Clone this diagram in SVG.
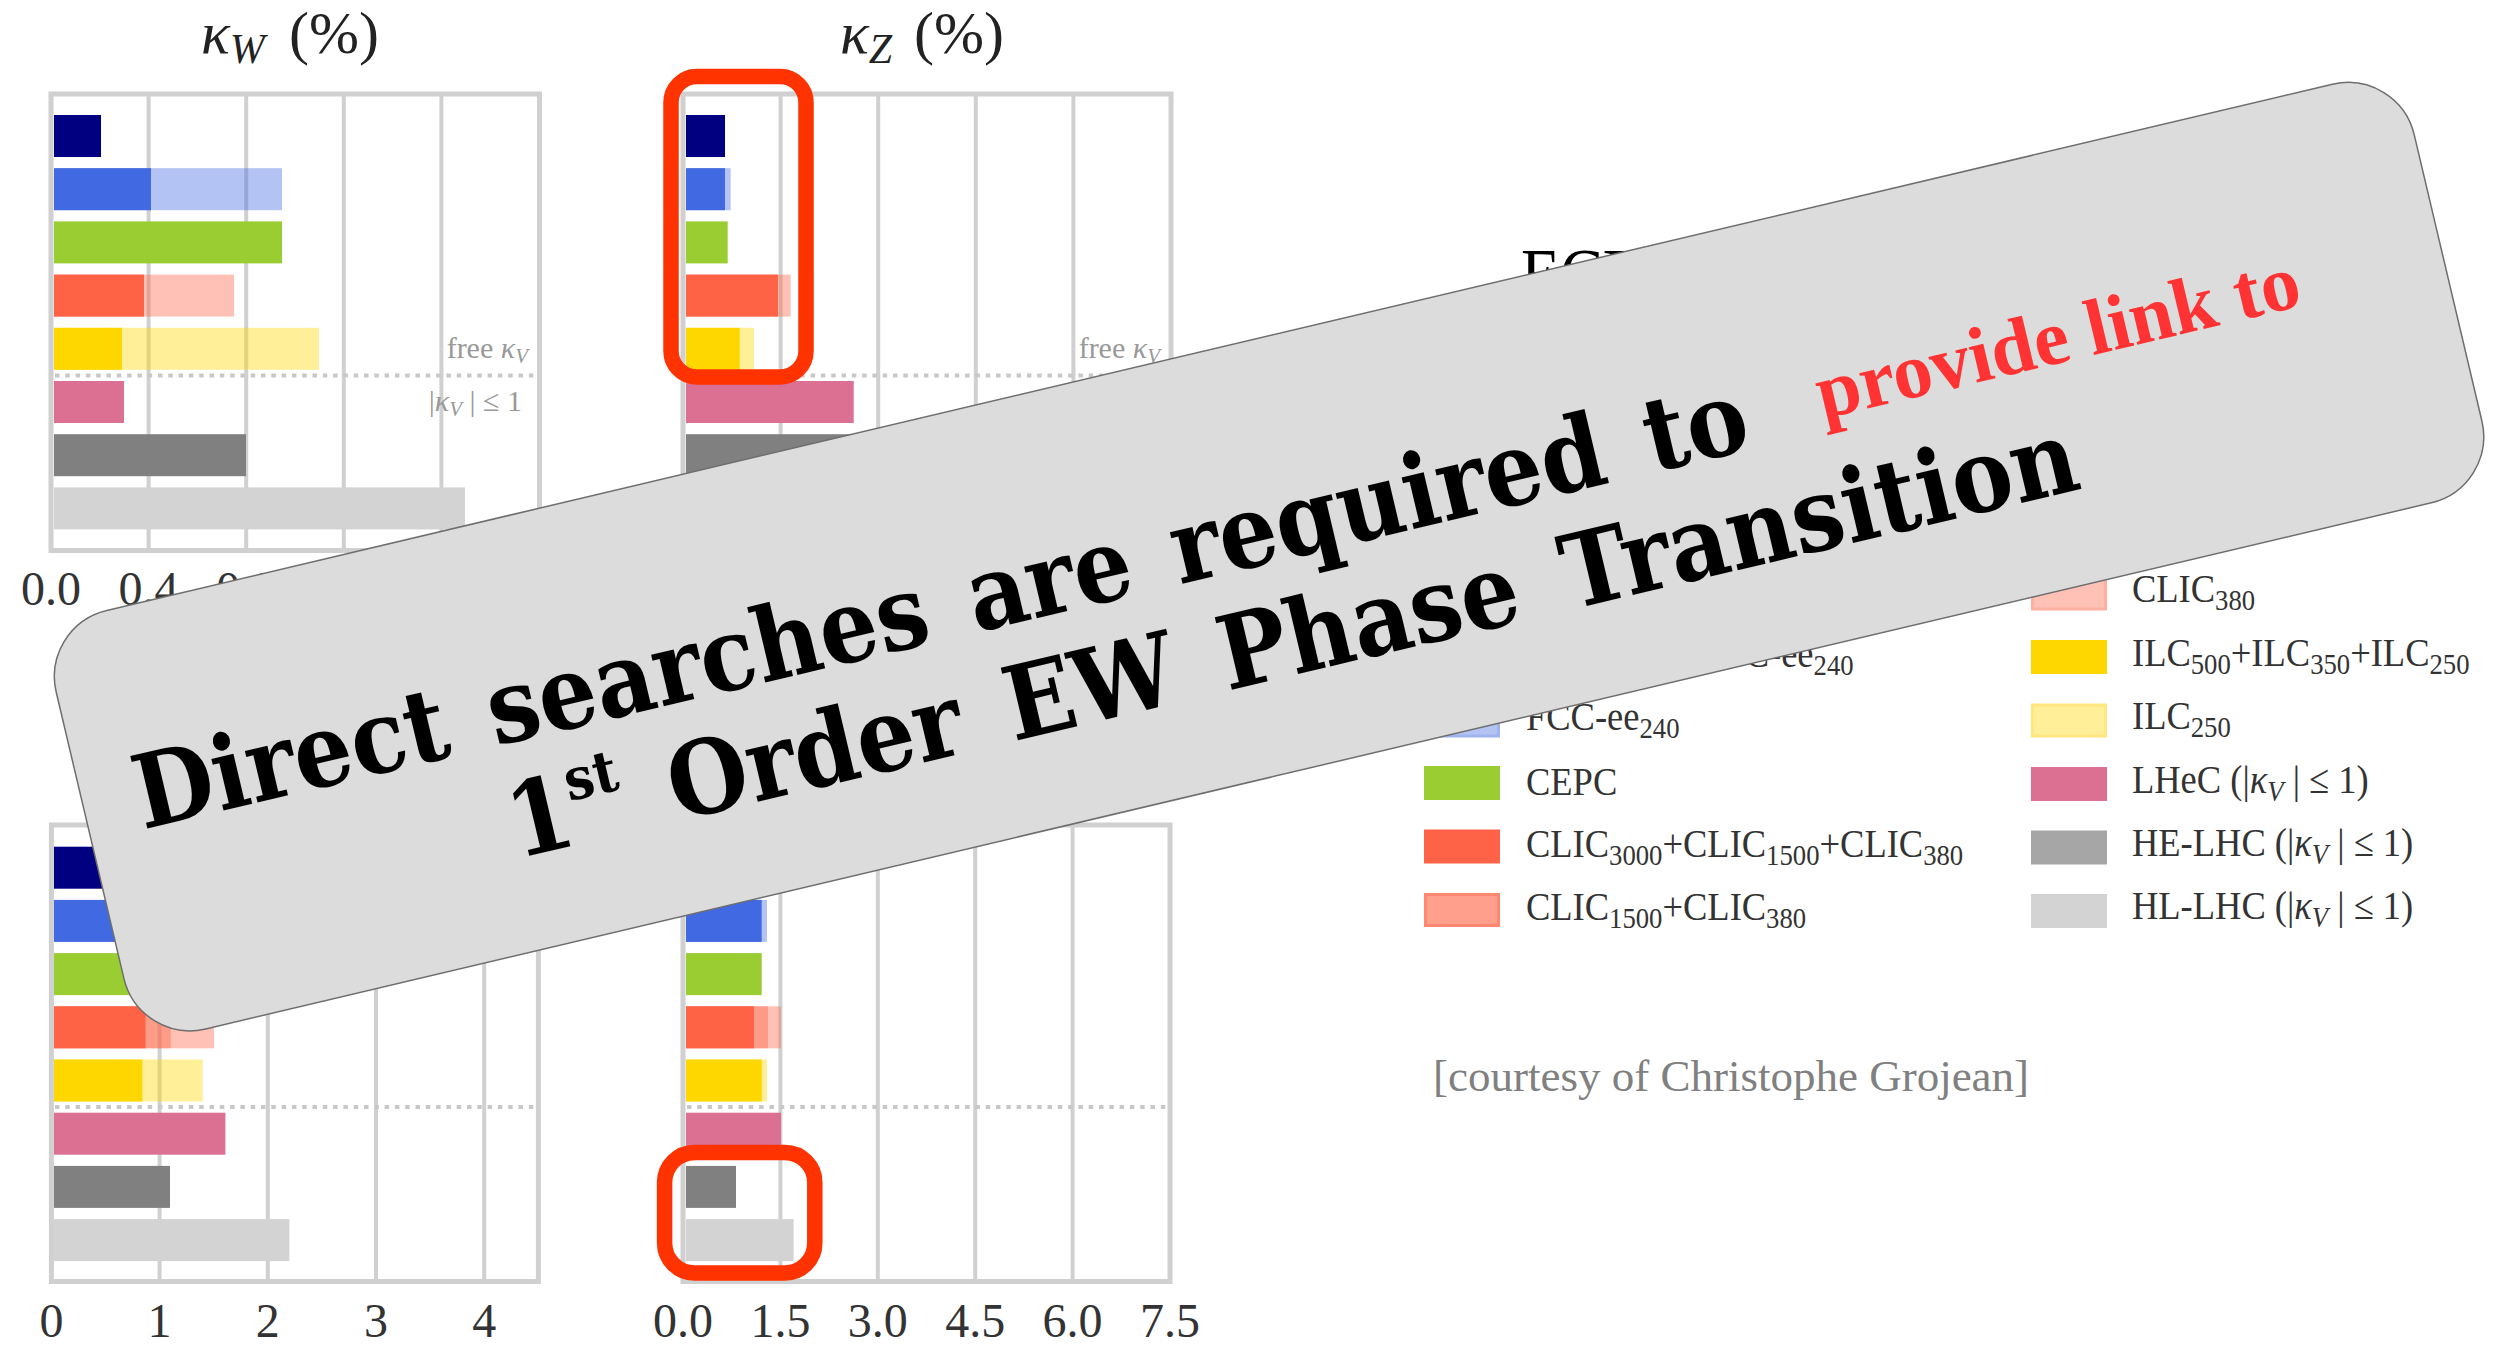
<svg xmlns="http://www.w3.org/2000/svg" width="2507" height="1345" viewBox="0 0 2507 1345">
<style>
.frame{fill:none;stroke:#d0d0d0;stroke-width:5}
.grid{stroke:#d0d0d0;stroke-width:4}
.dot{stroke:#c8c8c8;stroke-width:4;stroke-dasharray:4.5 5.8}
.ax{font-family:"Liberation Serif",serif;font-size:48px;fill:#333;text-anchor:middle}
.ttl{font-family:"Liberation Serif",serif;font-size:60px;fill:#222}
.note{font-family:"Liberation Serif",serif;font-size:30px;fill:#999;text-anchor:end}
.leg{font-family:"Liberation Serif",serif;font-size:41px;fill:#333}
.lt{opacity:0.4}
.bn{font-family:"DejaVu Serif Condensed","DejaVu Serif",serif;font-stretch:condensed;font-weight:bold;font-size:102px;fill:#000}
.red{font-family:"Liberation Serif",serif;font-weight:bold;font-size:79px;fill:#ff3333}
.hl{fill:none;stroke:#ff3300;stroke-width:15.5}
</style>
<rect width="2507" height="1345" fill="#fff"/>

<g id="chart-kW">
<text class="ttl" x="201" y="53"><tspan font-style="italic">κ</tspan><tspan font-style="italic" font-size="42" dy="10">W</tspan><tspan x="289" dy="-10">(%)</tspan></text>
<line class="grid" x1="148.6" y1="94" x2="148.6" y2="550"/>
<line class="grid" x1="246.2" y1="94" x2="246.2" y2="550"/>
<line class="grid" x1="343.8" y1="94" x2="343.8" y2="550"/>
<line class="grid" x1="441.4" y1="94" x2="441.4" y2="550"/>
<rect x="54" y="115" width="47" height="42" fill="#000080"/>
<rect x="54" y="168.2" width="97" height="42" fill="#4169e1"/>
<rect class="lt" x="54" y="168.2" width="228" height="42" fill="#4169e1"/>
<rect x="54" y="221.4" width="228" height="42" fill="#9acd32"/>
<rect x="54" y="274.6" width="90" height="42" fill="#ff6347"/>
<rect class="lt" x="54" y="274.6" width="180" height="42" fill="#ff6347"/>
<rect x="54" y="327.8" width="68" height="42" fill="#ffd700"/>
<rect class="lt" x="54" y="327.8" width="265" height="42" fill="#ffd700"/>
<line class="dot" x1="55" y1="375.6" x2="536" y2="375.6"/>
<rect x="54" y="381" width="70" height="42" fill="#db7093"/>
<rect x="54" y="434.2" width="192" height="42" fill="#808080"/>
<rect x="54" y="487.4" width="411" height="42" fill="#d3d3d3"/>
<rect class="frame" x="51" y="94" width="488.5" height="456.5"/>
<text class="note" x="528" y="358">free <tspan font-style="italic">κ</tspan><tspan font-style="italic" font-size="21" dy="5">V</tspan></text>
<text class="note" x="522" y="411">|<tspan font-style="italic">κ</tspan><tspan font-style="italic" font-size="21" dy="5">V</tspan><tspan dy="-5"> | ≤ 1</tspan></text>
<text class="ax" x="51" y="605">0.0</text>
<text class="ax" x="148.6" y="605">0.4</text>
<text class="ax" x="246.2" y="605">0.8</text>
</g>

<g id="chart-kZ">
<text class="ttl" x="840" y="53"><tspan font-style="italic">κ</tspan><tspan font-style="italic" font-size="42" dy="10">Z</tspan><tspan x="914" dy="-10">(%)</tspan></text>
<line class="grid" x1="780.6" y1="94" x2="780.6" y2="550"/>
<line class="grid" x1="878.2" y1="94" x2="878.2" y2="550"/>
<line class="grid" x1="975.8" y1="94" x2="975.8" y2="550"/>
<line class="grid" x1="1073.4" y1="94" x2="1073.4" y2="550"/>
<rect x="686" y="115" width="39" height="42" fill="#000080"/>
<rect x="686" y="168.2" width="39" height="42" fill="#4169e1"/>
<rect class="lt" x="686" y="168.2" width="44.6" height="42" fill="#4169e1"/>
<rect x="686" y="221.4" width="41.7" height="42" fill="#9acd32"/>
<rect x="686" y="274.6" width="92" height="42" fill="#ff6347"/>
<rect class="lt" x="686" y="274.6" width="104.7" height="42" fill="#ff6347"/>
<rect x="686" y="327.8" width="53.7" height="42" fill="#ffd700"/>
<rect class="lt" x="686" y="327.8" width="68" height="42" fill="#ffd700"/>
<line class="dot" x1="687" y1="375.6" x2="1166" y2="375.6"/>
<rect x="686" y="381" width="167.7" height="42" fill="#db7093"/>
<rect x="686" y="434.2" width="166" height="42" fill="#808080"/>
<rect x="686" y="487.4" width="200" height="42" fill="#d3d3d3"/>
<rect class="frame" x="683" y="94" width="488" height="456.5"/>
<text class="note" x="1160" y="358">free <tspan font-style="italic">κ</tspan><tspan font-style="italic" font-size="21" dy="5">V</tspan></text>
</g>

<g id="chart-bl">
<line class="grid" x1="159.6" y1="825" x2="159.6" y2="1281"/>
<line class="grid" x1="267.8" y1="825" x2="267.8" y2="1281"/>
<line class="grid" x1="376" y1="825" x2="376" y2="1281"/>
<line class="grid" x1="484.2" y1="825" x2="484.2" y2="1281"/>
<rect x="54" y="846.7" width="80" height="42" fill="#000080"/>
<rect x="54" y="899.9" width="90" height="42" fill="#4169e1"/>
<rect x="54" y="953.1" width="110" height="42" fill="#9acd32"/>
<rect x="54" y="1006.3" width="91.5" height="42" fill="#ff6347"/>
<rect class="lt" x="54" y="1006.3" width="116.8" height="42" fill="#ff6347"/>
<rect class="lt" x="54" y="1006.3" width="160" height="42" fill="#ff6347"/>
<rect x="54" y="1059.5" width="88.3" height="42" fill="#ffd700"/>
<rect class="lt" x="54" y="1059.5" width="148.8" height="42" fill="#ffd700"/>
<line class="dot" x1="55" y1="1107" x2="535" y2="1107"/>
<rect x="54" y="1112.7" width="171.4" height="42" fill="#db7093"/>
<rect x="54" y="1165.9" width="116" height="42" fill="#808080"/>
<rect x="54" y="1219.1" width="235.4" height="42" fill="#d3d3d3"/>
<rect class="frame" x="51.4" y="825" width="487" height="456.5"/>
<text class="ax" x="51.4" y="1337">0</text>
<text class="ax" x="159.6" y="1337">1</text>
<text class="ax" x="267.8" y="1337">2</text>
<text class="ax" x="376" y="1337">3</text>
<text class="ax" x="484.2" y="1337">4</text>
</g>

<g id="chart-br">
<line class="grid" x1="780.4" y1="825" x2="780.4" y2="1281"/>
<line class="grid" x1="877.8" y1="825" x2="877.8" y2="1281"/>
<line class="grid" x1="975.2" y1="825" x2="975.2" y2="1281"/>
<line class="grid" x1="1072.6" y1="825" x2="1072.6" y2="1281"/>
<rect x="686" y="846.7" width="60" height="42" fill="#000080"/>
<rect x="686" y="899.9" width="75.7" height="42" fill="#4169e1"/>
<rect class="lt" x="686" y="899.9" width="81" height="42" fill="#4169e1"/>
<rect x="686" y="953.1" width="75.7" height="42" fill="#9acd32"/>
<rect x="686" y="1006.3" width="68" height="42" fill="#ff6347"/>
<rect class="lt" x="686" y="1006.3" width="82" height="42" fill="#ff6347"/>
<rect class="lt" x="686" y="1006.3" width="95" height="42" fill="#ff6347"/>
<rect x="686" y="1059.5" width="75.7" height="42" fill="#ffd700"/>
<rect class="lt" x="686" y="1059.5" width="81" height="42" fill="#ffd700"/>
<line class="dot" x1="687" y1="1107" x2="1166" y2="1107"/>
<rect x="686" y="1112.7" width="95" height="42" fill="#db7093"/>
<rect x="686" y="1165.9" width="50" height="42" fill="#808080"/>
<rect x="686" y="1219.1" width="107.6" height="42" fill="#d3d3d3"/>
<rect class="frame" x="683" y="825" width="487" height="456.5"/>
<text class="ax" x="683" y="1337">0.0</text>
<text class="ax" x="780.4" y="1337">1.5</text>
<text class="ax" x="877.8" y="1337">3.0</text>
<text class="ax" x="975.2" y="1337">4.5</text>
<text class="ax" x="1072.6" y="1337">6.0</text>
<text class="ax" x="1170" y="1337">7.5</text>
</g>

<g id="legend">
<text style="font-family:'Liberation Serif',serif;font-size:72px;fill:#000" transform="translate(1521 298) scale(0.89 1)">ECFA</text>
<rect x="1424" y="640" width="76" height="34" fill="#4169e1"/>
<text class="leg" transform="translate(1526 667) scale(0.89 1)">FCC-ee<tspan font-size="30" dy="8">365</tspan><tspan dy="-8">+FCC-ee</tspan><tspan font-size="30" dy="8">240</tspan></text>
<rect x="1425.5" y="705" width="73" height="31" fill="#b3c3f3" stroke="#9fb3ef" stroke-width="3"/>
<text class="leg" transform="translate(1526 730) scale(0.89 1)">FCC-ee<tspan font-size="30" dy="8">240</tspan></text>
<rect x="1424" y="766" width="76" height="34" fill="#9acd32"/>
<text class="leg" transform="translate(1526 795) scale(0.89 1)">CEPC</text>
<rect x="1424" y="829.5" width="76" height="34" fill="#ff6347"/>
<text class="leg" transform="translate(1526 857) scale(0.89 1)">CLIC<tspan font-size="30" dy="8">3000</tspan><tspan dy="-8">+CLIC</tspan><tspan font-size="30" dy="8">1500</tspan><tspan dy="-8">+CLIC</tspan><tspan font-size="30" dy="8">380</tspan></text>
<rect x="1425.5" y="894.5" width="73" height="31" fill="#ff9f8c" stroke="#ff8670" stroke-width="3"/>
<text class="leg" transform="translate(1526 920) scale(0.89 1)">CLIC<tspan font-size="30" dy="8">1500</tspan><tspan dy="-8">+CLIC</tspan><tspan font-size="30" dy="8">380</tspan></text>

<rect x="2032.5" y="578" width="73" height="31" fill="#ffc1b5" stroke="#ffb0a0" stroke-width="3"/>
<text class="leg" transform="translate(2132 602) scale(0.89 1)">CLIC<tspan font-size="30" dy="8">380</tspan></text>
<rect x="2031" y="640" width="76" height="34" fill="#ffd700"/>
<text class="leg" transform="translate(2132 666) scale(0.89 1)">ILC<tspan font-size="30" dy="8">500</tspan><tspan dy="-8">+ILC</tspan><tspan font-size="30" dy="8">350</tspan><tspan dy="-8">+ILC</tspan><tspan font-size="30" dy="8">250</tspan></text>
<rect x="2032.5" y="705" width="73" height="31" fill="#ffef99" stroke="#ffe680" stroke-width="3"/>
<text class="leg" transform="translate(2132 729) scale(0.89 1)">ILC<tspan font-size="30" dy="8">250</tspan></text>
<rect x="2031" y="767" width="76" height="34" fill="#db7093"/>
<text class="leg" transform="translate(2132 793) scale(0.89 1)">LHeC (|<tspan font-style="italic">κ</tspan><tspan font-style="italic" font-size="30" dy="8">V</tspan><tspan dy="-8"> | ≤ 1)</tspan></text>
<rect x="2031" y="830.5" width="76" height="34" fill="#a6a6a6"/>
<text class="leg" transform="translate(2132 856) scale(0.89 1)">HE-LHC (|<tspan font-style="italic">κ</tspan><tspan font-style="italic" font-size="30" dy="8">V</tspan><tspan dy="-8"> | ≤ 1)</tspan></text>
<rect x="2031" y="894" width="76" height="34" fill="#d3d3d3"/>
<text class="leg" transform="translate(2132 919) scale(0.89 1)">HL-LHC (|<tspan font-style="italic">κ</tspan><tspan font-style="italic" font-size="30" dy="8">V</tspan><tspan dy="-8"> | ≤ 1)</tspan></text>
<text x="1433" y="1091" font-family="Liberation Serif, serif" font-size="45" fill="#808080">[courtesy of Christophe Grojean]</text>
</g>

<g id="banner" transform="translate(40.6 626.1) rotate(-13.3)">
<rect x="0" y="0" width="2423" height="430" rx="68" fill="#dcdcdc" stroke="#6e6e6e" stroke-width="1.5"/>
<text class="bn" x="53" y="221.5" word-spacing="11">Direct searches are required to</text>
<text class="red" x="1782" y="208.5">provide link to</text>
<text class="bn" x="1215" y="336" text-anchor="middle" word-spacing="15">1<tspan font-size="58" dy="-44">st</tspan><tspan dy="44"> Order EW Phase Transition</tspan></text>
</g>

<g id="highlights">
<rect class="hl" x="671" y="76.5" width="135" height="300.5" rx="26"/>
<rect class="hl" x="664.6" y="1152.5" width="150.2" height="120.5" rx="30"/>
</g>
</svg>
